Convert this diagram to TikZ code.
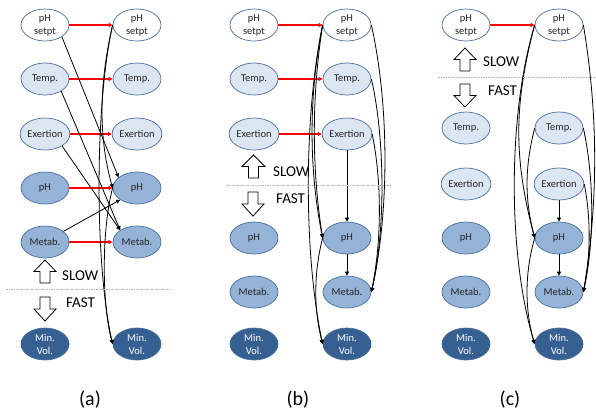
\documentclass[tikz,border=0pt]{standalone}
\usepackage{fontspec}
\setmainfont{Carlito}
\usetikzlibrary{arrows.meta,shapes.geometric}
\definecolor{bd}{HTML}{4A6E9C}
\definecolor{lt}{HTML}{DCE6F2}
\definecolor{md}{HTML}{95B3D7}
\definecolor{dk}{HTML}{376092}
\definecolor{txt}{HTML}{262626}
\tikzset{
 ell/.style={ellipse, draw=bd, line width=0.7pt, minimum width=48pt, minimum height=32pt, inner sep=0pt, align=center, font=\fontsize{10.5}{13}\selectfont, text=txt},
 wh/.style={ell, fill=white},
 lg/.style={ell, fill=lt},
 mg/.style={ell, fill=md},
 dg/.style={ell, fill=dk, text=white},
 redarr/.style={draw=red, line width=1.1pt, -{Triangle[length=4pt,width=4pt]}},
 blkarr/.style={draw=black, line width=0.8pt, -{Triangle[length=4pt,width=4pt]}},
 blockarr/.style={draw=black, line width=0.8pt, fill=white},
 sep/.style={draw=gray!60, line width=0.5pt, dash pattern=on 1.5pt off 1pt},
 speed/.style={font=\fontsize{15}{18}\selectfont, anchor=west, text=black, inner sep=0pt},
 panelcap/.style={font=\fontsize{20}{24}\selectfont, inner sep=0pt},
}
\newcommand\fatarrow[5]{% cx, tip y, base y, half head width, half shaft width
 \draw[blockarr] (#1,#2) -- ({#1+#4},{(#2+#3)/2}) -- ({#1+#5},{(#2+#3)/2}) -- ({#1+#5},#3) -- ({#1-#5},#3) -- ({#1-#5},{(#2+#3)/2}) -- ({#1-#4},{(#2+#3)/2}) -- cycle;}
\begin{document}
\begin{tikzpicture}[x=1pt,y=-1pt]
\useasboundingbox (0,0) rectangle (596,413);
% ---------------- panel (a)
\node[wh] (aL1) at (45,25) {pH\\setpt};
\node[lg] (aL2) at (45,79) {Temp.};
\node[lg] (aL3) at (45,134) {Exertion};
\node[mg] (aL4) at (45,188) {pH};
\node[mg] (aL5) at (45,242) {Metab.};
\node[dg] (aL6) at (45,344) {Min.\\Vol.};
\node[wh] (aR1) at (137,25) {pH\\setpt};
\node[lg] (aR2) at (137,79) {Temp.};
\node[lg] (aR3) at (137,134) {Exertion};
\node[mg] (aR4) at (137,188) {pH};
\node[mg] (aR5) at (137,242) {Metab.};
\node[dg] (aR6) at (137,344) {Min.\\Vol.};
\foreach \i in {1,...,5} \draw[redarr] (aL\i.east) -- (aR\i.west);
\draw[blkarr] (aL1.-35) -- (aR4.150);
\draw[blkarr] (aL2.-37) -- (aR5.145);
\draw[blkarr] (aL3.-35) -- (aR5.145);
\draw[blkarr] (aL5.30) -- (aR4.215);
\draw[blkarr] (aR1.west) .. controls +(-18,80) and +(-18,-80) .. (aR6.west);
\draw[blkarr] (aR1.west) .. controls +(-14,60) and +(-14,-50) .. (aR4.west);
\draw[blkarr] (aR4.west) .. controls +(-11,40) and +(-11,-40) .. (aR6.west);
\fatarrow{45}{260}{283}{11}{5}
\fatarrow{45}{321}{297}{11}{5}
\draw[sep] (6,289) -- (170,289);
\node[speed] (aslow) at (62,276) {SLOW};
\node[speed] (afast) at (66,303) {FAST};
\node[panelcap] (acap) at (90,400) {(a)};
% ---------------- panel (b)
\node[wh] (bL1) at (254,25) {pH\\setpt};
\node[lg] (bL2) at (254,79) {Temp.};
\node[lg] (bL3) at (254,134) {Exertion};
\node[mg] (bL4) at (254,238) {pH};
\node[mg] (bL5) at (254,292) {Metab.};
\node[dg] (bL6) at (254,344) {Min.\\Vol.};
\node[wh] (bR1) at (347,25) {pH\\setpt};
\node[lg] (bR2) at (347,79) {Temp.};
\node[lg] (bR3) at (347,134) {Exertion};
\node[mg] (bR4) at (347,238) {pH};
\node[mg] (bR5) at (347,292) {Metab.};
\node[dg] (bR6) at (347,344) {Min.\\Vol.};
\foreach \i in {1,2,3} \draw[redarr] (bL\i.east) -- (bR\i.west);
\draw[blkarr] (bR3.south) -- (bR4.north);
\draw[blkarr] (bR4.south) -- (bR5.north);
\draw[blkarr] (bR1.west) .. controls +(-19,90) and +(-19,-90) .. (bR6.west);
\draw[blkarr] (bR1.west) .. controls +(-14,70) and +(-14,-70) .. (bR4.west);
\draw[blkarr] (bR1.west) .. controls +(-11,70) and +(-11,-70) .. (bR4.west);
\draw[blkarr] (bR4.west) .. controls +(-9,35) and +(-9,-35) .. (bR6.west);
\draw[blkarr] (bR1.east) .. controls +(18,80) and +(18,-80) .. (bR5.east);
\draw[blkarr] (bR2.east) .. controls +(14,60) and +(14,-60) .. (bR5.east);
\draw[blkarr] (bR3.east) .. controls +(10,50) and +(10,-50) .. (bR5.east);
\fatarrow{253.5}{155}{178}{11.5}{5}
\fatarrow{253}{216}{192}{11}{5}
\draw[sep] (227,185) -- (390,185);
\node[speed] (bslow) at (273,172) {SLOW};
\node[speed] (bfast) at (276,199) {FAST};
\node[panelcap] (bcap) at (298,400) {(b)};
% ---------------- panel (c)
\node[wh] (cL1) at (466,25) {pH\\setpt};
\node[lg] (cL2) at (466,128) {Temp.};
\node[lg] (cL3) at (466,184) {Exertion};
\node[mg] (cL4) at (466,238) {pH};
\node[mg] (cL5) at (466,292) {Metab.};
\node[dg] (cL6) at (466,344) {Min.\\Vol.};
\node[wh] (cR1) at (559,25) {pH\\setpt};
\node[lg] (cR2) at (559,128) {Temp.};
\node[lg] (cR3) at (559,184) {Exertion};
\node[mg] (cR4) at (559,238) {pH};
\node[mg] (cR5) at (559,292) {Metab.};
\node[dg] (cR6) at (559,344) {Min.\\Vol.};
\draw[redarr] (cL1.east) -- (cR1.west);
\draw[blkarr] (cR3.south) -- (cR4.north);
\draw[blkarr] (cR4.south) -- (cR5.north);
\draw[blkarr] (cR1.west) .. controls +(-27,90) and +(-27,-90) .. (cR6.west);
\draw[blkarr] (cR1.west) .. controls +(-21,80) and +(-21,-80) .. (cR4.west);
\draw[blkarr] (cR2.west) .. controls +(-10,40) and +(-10,-40) .. (cR4.west);
\draw[blkarr] (cR4.west) .. controls +(-10,35) and +(-10,-35) .. (cR6.west);
\draw[blkarr] (cR1.east) .. controls +(15,90) and +(15,-90) .. (cR5.east);
\draw[blkarr] (cR2.east) .. controls +(11,50) and +(11,-50) .. (cR5.east);
\draw[blkarr] (cR3.east) .. controls +(7,35) and +(7,-35) .. (cR5.east);
\fatarrow{465}{48}{71}{11}{5}
\fatarrow{465}{107}{84}{11}{5}
\draw[sep] (438,77) -- (596,77);
\node[speed] (cslow) at (483,62) {SLOW};
\node[speed] (cfast) at (488,91) {FAST};
\node[panelcap] (ccap) at (510,400) {(c)};
\end{tikzpicture}
\end{document}
